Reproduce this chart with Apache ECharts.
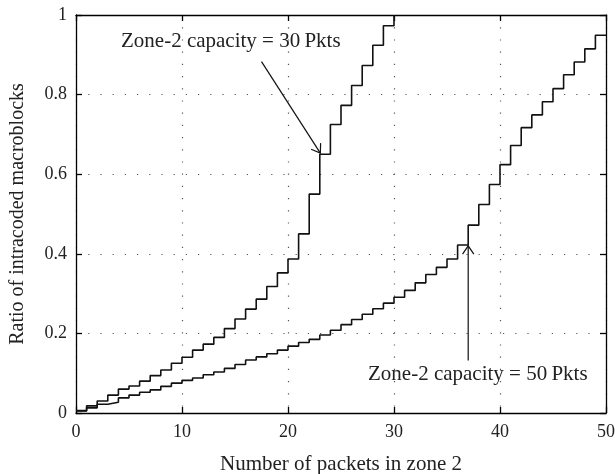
<!DOCTYPE html>
<html>
<head>
<meta charset="utf-8">
<script src="https://cdn.jsdelivr.net/npm/echarts@6/dist/echarts.min.js"></script>
<style>html,body{margin:0;padding:0;background:#fff;}#c{width:615px;height:474px;}</style>
</head>
<body>
<div id="c"></div>
<script>
// Zone-2 capacity = 30 Pkts
const packetsA = [0,1,2,3,4,5,6,7,8,9,10,11,12,13,14,15,16,17,18,19,20,21,22,23,24,25,26,27,28,29,30];
const ratioA = [0.006,0.018,0.030,0.045,0.060,0.068,0.080,0.094,0.108,0.125,0.140,0.158,0.173,0.190,0.212,0.236,0.261,0.286,0.318,0.352,0.387,0.450,0.550,0.650,0.725,0.773,0.823,0.873,0.924,0.973,1.000];
// Zone-2 capacity = 50 Pkts
const packetsB = [0,1,2,3,4,5,6,7,8,9,10,11,12,13,14,15,16,17,18,19,20,21,22,23,24,25,26,27,28,29,30,31,32,33,34,35,36,37,38,39,40,41,42,43,44,45,46,47,48,49,50];
const ratioB = [0.005,0.013,0.022,0.027,0.038,0.045,0.052,0.058,0.067,0.075,0.082,0.088,0.096,0.103,0.112,0.122,0.133,0.141,0.149,0.158,0.168,0.177,0.185,0.196,0.208,0.222,0.235,0.248,0.262,0.276,0.291,0.308,0.327,0.348,0.366,0.387,0.422,0.472,0.524,0.574,0.624,0.672,0.717,0.749,0.782,0.815,0.850,0.882,0.915,0.949,0.949];
// annotation arrows: [fromX, fromY, toX, toY] in data units
const arrowA = [17.5, 0.883, 23.05, 0.653];
const arrowB = [37.0, 0.132, 37.0, 0.42];
const labelA = 'Zone-2 capacity = 30\u2009Pkts';
const labelB = 'Zone-2 capacity = 50\u2009Pkts';
const xTitle = 'Number of packets in zone 2';
const yTitle = 'Ratio of intracoded macroblocks';

const FONT = '"Liberation Serif", "DejaVu Serif", serif';
const chart = echarts.init(document.getElementById('c'), null, {renderer: 'canvas'});
const dotted = {show: true, lineStyle: {color: '#555', width: 1.2, type: [1.2, 11]}};
const axisLine = {show: true, onZero: false, lineStyle: {color: '#000', width: 1.3}};
const tick = {show: true, inside: true, length: 6, lineStyle: {color: '#000', width: 1.3}};

chart.setOption({
  animation: false,
  backgroundColor: '#fff',
  grid: {left: 76, right: 9, top: 15, bottom: 61, containLabel: false, outerBoundsMode: 'none'},
  xAxis: [{
    type: 'value', min: 0, max: 50, interval: 10, position: 'bottom',
    name: xTitle, nameLocation: 'middle', nameGap: 41,
    nameTextStyle: {fontFamily: FONT, fontSize: 21, color: '#222'},
    axisLine: axisLine, axisTick: tick,
    axisLabel: {fontFamily: FONT, fontSize: 18, color: '#222', margin: 10},
    splitLine: dotted
  }, {
    type: 'value', min: 0, max: 50, interval: 10, position: 'top',
    axisLine: axisLine, axisTick: tick, axisLabel: {show: false}, splitLine: {show: false}
  }],
  yAxis: [{
    type: 'value', min: 0, max: 1, interval: 0.2, position: 'left',
    name: yTitle, nameLocation: 'middle', nameGap: 48,
    nameTextStyle: {fontFamily: FONT, fontSize: 20, color: '#222'},
    axisLine: axisLine, axisTick: tick,
    axisLabel: {fontFamily: FONT, fontSize: 18, color: '#222', margin: 9},
    splitLine: dotted
  }, {
    type: 'value', min: 0, max: 1, interval: 0.2, position: 'right',
    axisLine: axisLine, axisTick: tick, axisLabel: {show: false}, splitLine: {show: false}
  }],
  series: [{
    type: 'line', step: 'end', showSymbol: false, symbol: 'none',
    data: packetsA.map((x, i) => [x, ratioA[i]]),
    lineStyle: {color: '#111', width: 1.6}
  }, {
    type: 'line', step: 'end', showSymbol: false, symbol: 'none',
    data: packetsB.map((x, i) => [x, ratioB[i]]),
    lineStyle: {color: '#111', width: 1.6}
  }, {
    type: 'custom', silent: true, clip: false,
    encode: {x: [0, 2], y: [1, 3]},
    data: [arrowA, arrowB],
    renderItem: function (params, api) {
      const p1 = api.coord([api.value(0), api.value(1)]);
      const p2 = api.coord([api.value(2), api.value(3)]);
      const ang = Math.atan2(p1[1] - p2[1], p1[0] - p2[0]);
      const L = 10, a = 0.6;
      const h1 = [p2[0] + L * Math.cos(ang + a), p2[1] + L * Math.sin(ang + a)];
      const h2 = [p2[0] + L * Math.cos(ang - a), p2[1] + L * Math.sin(ang - a)];
      return {type: 'group', children: [
        {type: 'line', shape: {x1: p1[0], y1: p1[1], x2: p2[0], y2: p2[1]}, style: {stroke: '#111', lineWidth: 1.2}},
        {type: 'polyline', shape: {points: [h1, p2, h2]}, style: {stroke: '#111', fill: null, lineWidth: 1.2}}
      ]};
    }
  }],
  graphic: [
    {type: 'text', left: 121, top: 31, style: {text: labelA, font: '21px ' + FONT, fill: '#222'}},
    {type: 'text', left: 368, top: 364, style: {text: labelB, font: '21px ' + FONT, fill: '#222'}}
  ]
});
</script>
</body>
</html>
